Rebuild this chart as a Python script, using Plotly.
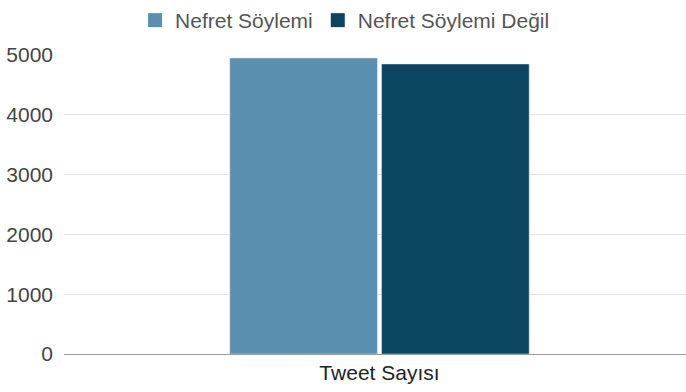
import plotly.graph_objects as go

categories = ["Tweet Sayısı"]
series_names = ["Nefret Söylemi", "Nefret Söylemi Değil"]
nefret = [4950]
nefret_degil = [4850]
y_ticks = [0, 1000, 2000, 3000, 4000, 5000]

colors = ["#5a8fb0", "#0b4562"]
FONT = "Liberation Sans, Arial, sans-serif"

fig = go.Figure()
for name, vals, col in zip(series_names, [nefret, nefret_degil], colors):
    fig.add_trace(go.Bar(x=categories, y=vals, name=name, marker_color=col, showlegend=False))
# legend entries with larger square swatches
for name, col in zip(series_names, colors):
    fig.add_trace(go.Scatter(x=[None], y=[None], mode="markers", name=name,
                             marker=dict(symbol="square", size=14, color=col)))

fig.update_layout(
    width=686, height=392,
    margin=dict(l=64, r=0, t=55, b=38),
    paper_bgcolor="white", plot_bgcolor="white",
    font=dict(family=FONT, size=21, color="#444444"),
    barmode="group", bargap=0.512, bargroupgap=0.027,
    legend=dict(orientation="h", x=0.503, xanchor="center", xref="container",
                y=1.0, yanchor="top", yref="container",
                font=dict(size=21, color="#555555"),
                traceorder="normal", itemsizing="trace"),
    showlegend=True,
)
fig.update_xaxes(range=[-0.5072, 0.4928], showline=True, linecolor="#9a9a9a", linewidth=1,
                 ticks="", tickfont=dict(size=21, color="#222222"))
fig.update_yaxes(range=[0, 5000], tickvals=y_ticks, showgrid=True, gridcolor="#e3e3e3",
                 zeroline=False, ticks="", ticklabelstandoff=10,
                 tickfont=dict(size=21, color="#444444"))

fig.write_html("out.html")
